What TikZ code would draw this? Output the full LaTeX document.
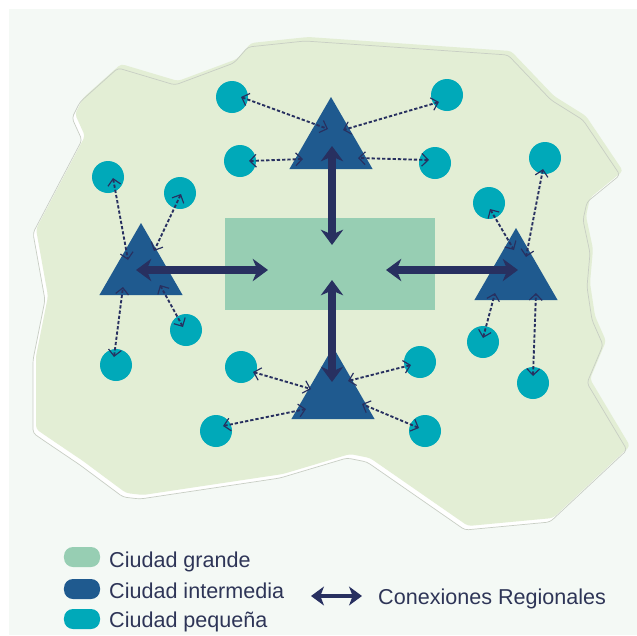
\documentclass[tikz,border=0pt]{standalone}
\usepackage{fontspec}
\setmainfont{Liberation Sans}
\usetikzlibrary{shapes.geometric, arrows.meta}

\definecolor{paper}{HTML}{F4F9F5}
\definecolor{land}{HTML}{E3EED5}
\definecolor{landline}{HTML}{C8CEC4}
\definecolor{grande}{HTML}{97CEB3}
\definecolor{intermedia}{HTML}{1F5A8F}
\definecolor{pequena}{HTML}{00A9B9}
\definecolor{navy}{HTML}{283060}
\definecolor{ink}{HTML}{2E3557}

% outline of the region
\newcommand{\regionpath}{(72,118) -- (80,102) -- (118,68) -- (175,85) -- (234,63) -- (248,47)
    -- (305,41) -- (508,55) -- (551,100) -- (583,120) -- (620,175) -- (587,202) -- (583,220)
    -- (590,253) -- (587,287) -- (592,320) -- (603,345) -- (587,383) -- (627,450) -- (550,522)
    -- (465,530) -- (367,462) -- (347,458) -- (280,478) -- (140,499) -- (123,497) -- (80,465)
    -- (43,440) -- (33,433) -- (33,360) -- (45,300) -- (33,233) -- (82,140) -- cycle}

\begin{document}
\begin{tikzpicture}[
        x=0.03cm, y=-0.03cm,
        bigcity/.style={rectangle, fill=grande, minimum width=6.3cm, minimum height=2.76cm, inner sep=0pt},
        midcity/.style={regular polygon, regular polygon sides=3, fill=intermedia, minimum size=2.88cm, inner sep=0pt},
        smallcity/.style={circle, fill=pequena, minimum size=0.96cm, inner sep=0pt},
        link/.style={navy, line width=1.6pt, dash pattern=on 2.8pt off 1.7pt,
            {Straight Barb[length=5.5pt, width=11pt, line width=1pt]}-{Straight Barb[length=5.5pt, width=11pt, line width=1pt]}},
        road/.style={navy, line width=6.5pt,
            {Stealth[length=13pt, width=19pt, inset=4pt]}-{Stealth[length=13pt, width=19pt, inset=4pt]}},
        pill/.style={rectangle, rounded corners=0.27cm, minimum width=1.08cm, minimum height=0.6cm, inner sep=0pt},
        legend/.style={text=ink, font=\fontsize{18.4}{22}\selectfont, inner sep=0pt, anchor=base west}
    ]
        \useasboundingbox (0,0) rectangle (637,635);
        \fill[paper] (9,9) rectangle (637,635);

        % region with its shadow
        \fill[white, rounded corners=3pt] \regionpath;
        \fill[land, rounded corners=3pt, shift={(3,-4)}] \regionpath;
        \draw[landline, line width=0.6pt, rounded corners=3pt] \regionpath;

        % cities
        \node[bigcity] (g) at (330,264) {};

        \node[midcity] (mTop) at (331,145) {};
        \node[midcity] (mLeft) at (141,271) {};
        \node[midcity] (mRight) at (516,276) {};
        \node[midcity] (mBottom) at (333,395) {};

        \foreach \n/\x/\y in {
            p1/232/97, p2/447/95, p3/240/161, p4/435/163,
            p5/108/177, p6/180/193, p7/186/330, p8/116/365,
            p9/489/203, p10/545/158, p11/483/342, p12/533/383,
            p13/241/367, p14/420/362, p15/216/431, p16/425/431
        } {
            \node[smallcity] (\n) at (\x,\y) {};
        }

        % links to the small cities
        \foreach \p/\m/\ax/\ay/\bx/\by in {
            p1/mTop/9/0/-3/-16, p2/mTop/-8/7/12/-15,
            p3/mTop/9/0/-28/14, p4/mTop/-6/-3/27/13,
            p5/mLeft/5/1/-13/-11, p6/mLeft/1/1/13/-20,
            p7/mLeft/-3/-3/19/14, p8/mLeft/-2/-8/-18/16,
            p9/mRight/1/6/-2/-26, p10/mRight/-2/11/10/-19,
            p11/mRight/0/-4/-21/17, p12/mRight/0/-7/20/17,
            p13/mBottom/12/5/-22/-6, p14/mBottom/-9/3/15/-14,
            p15/mBottom/7/-5/-27/14, p16/mBottom/-6/-3/29/9%
        } {
            \draw[link] ([shift={(\ax,\ay)}]\p.center) -- ([shift={(\bx,\by)}]\m.center);
        }

        % regional connections
        \draw[road] ([shift={(1,1)}]mTop.center) -- ([shift={(2,-19)}]g.center);
        \draw[road] ([shift={(-5,-1)}]mLeft.center) -- ([shift={(-62,6)}]g.center);
        \draw[road] ([shift={(56,6)}]g.center) -- ([shift={(2,-6)}]mRight.center);
        \draw[road] ([shift={(2,16)}]g.center) -- ([shift={(-1,-13)}]mBottom.center);

        % legend
        \node[pill, fill=grande] (kGrande) at (82,557) {};
        \node[pill, fill=intermedia] (kMedia) at (82,589) {};
        \node[pill, fill=pequena] (kPequena) at (82,619) {};
        \node[legend] (tGrande) at (109,567) {Ciudad grande};
        \node[legend] (tMedia) at (109,598) {Ciudad intermedia};
        \node[legend] (tPequena) at (109,627) {Ciudad pequeña};

        \coordinate (kFrom) at (311,596);
        \coordinate (kTo) at (362,596);
        \draw[navy, line width=4pt, {Stealth[length=11pt, width=16pt, inset=3pt]}-{Stealth[length=11pt, width=16pt, inset=3pt]}] (kFrom) -- (kTo);
        \node[legend] (tRoad) at (378,604) {Conexiones Regionales};
\end{tikzpicture}
\end{document}
